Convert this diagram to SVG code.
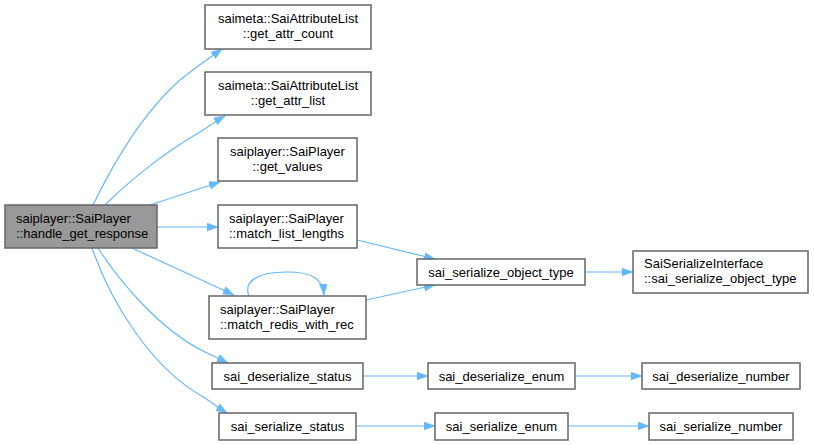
<svg xmlns="http://www.w3.org/2000/svg" width="814" height="445" viewBox="0 0 814 445">
<style>
.n rect{fill:#ffffff;stroke:#666666;stroke-width:1.5}
#root rect{fill:#999999}
text{font-family:"Liberation Sans",Arial,sans-serif;font-size:13px;fill:#000000}
.c{text-anchor:middle}
.e path{fill:none;stroke:#63b8ff;stroke-width:1.2}
</style>
<defs>
<marker id="ah" markerWidth="12" markerHeight="9" refX="11" refY="4" orient="auto" markerUnits="userSpaceOnUse">
<path d="M0,0 L11,4 L0,8 z" fill="#63b8ff" stroke="#63b8ff" stroke-width="0.5"/>
</marker>
</defs>
<rect width="814" height="445" fill="#ffffff"/>
<g class="e" id="edges">
<path d="M93,205 C110,170 140,115 180,80 C192,70 204,62 222,49" marker-end="url(#ah)"/>
<path d="M105,205 C125,185 160,155 200,132 C208,127 216,121 225,116" marker-end="url(#ah)"/>
<path d="M150,205 L220,182" marker-end="url(#ah)"/>
<path d="M157,227 L218,227" marker-end="url(#ah)"/>
<path d="M132,248 L234,295" marker-end="url(#ah)"/>
<path d="M98,248 C120,282 160,330 205,352 C213,356 220,359 228,363" marker-end="url(#ah)"/>
<path d="M92,248 C110,300 150,368 205,398 C212,403 219,408 227,413" marker-end="url(#ah)"/>
<path d="M249,296 C243,281 258,272 287,272 C312,272 323,279 324,295" marker-end="url(#ah)"/>
<path d="M357,240 L435,259" marker-end="url(#ah)"/>
<path d="M366,300 L435,285" marker-end="url(#ah)"/>
<path d="M585,272 L633,272" marker-end="url(#ah)"/>
<path d="M363,376 L428,376" marker-end="url(#ah)"/>
<path d="M575,376 L642,376" marker-end="url(#ah)"/>
<path d="M356,426 L435,426" marker-end="url(#ah)"/>
<path d="M568,426 L649,426" marker-end="url(#ah)"/>
</g>
<g class="n" id="root"><rect x="5" y="205" width="152" height="43"/><text x="16" y="223">saiplayer::SaiPlayer</text><text x="16" y="238">::handle_get_response</text></g>
<g class="n" id="get_attr_count"><rect x="205" y="5" width="166" height="44"/><text class="c" x="288" y="23">saimeta::SaiAttributeList</text><text class="c" x="288" y="38">::get_attr_count</text></g>
<g class="n" id="get_attr_list"><rect x="205" y="72" width="166" height="43"/><text class="c" x="288" y="90">saimeta::SaiAttributeList</text><text class="c" x="288" y="105">::get_attr_list</text></g>
<g class="n" id="get_values"><rect x="218" y="138" width="139" height="43"/><text class="c" x="287.5" y="156">saiplayer::SaiPlayer</text><text class="c" x="287.5" y="171">::get_values</text></g>
<g class="n" id="match_list_lengths"><rect x="218" y="205" width="139" height="43"/><text x="229" y="223">saiplayer::SaiPlayer</text><text x="229" y="238">::match_list_lengths</text></g>
<g class="n" id="match_redis_with_rec"><rect x="209" y="296" width="157" height="43"/><text x="220" y="314">saiplayer::SaiPlayer</text><text x="220" y="329">::match_redis_with_rec</text></g>
<g class="n" id="sai_deserialize_status"><rect x="212" y="363" width="151" height="26"/><text class="c" x="287.5" y="380.5">sai_deserialize_status</text></g>
<g class="n" id="sai_serialize_status"><rect x="219" y="413" width="137" height="27"/><text class="c" x="287.5" y="431">sai_serialize_status</text></g>
<g class="n" id="sai_serialize_object_type"><rect x="417" y="259" width="168" height="26"/><text class="c" x="501" y="276.5">sai_serialize_object_type</text></g>
<g class="n" id="SaiSerializeInterface"><rect x="633" y="251" width="175" height="42"/><text x="644" y="268">SaiSerializeInterface</text><text x="644" y="283">::sai_serialize_object_type</text></g>
<g class="n" id="sai_deserialize_enum"><rect x="428" y="363" width="147" height="26"/><text class="c" x="501.5" y="380.5">sai_deserialize_enum</text></g>
<g class="n" id="sai_deserialize_number"><rect x="642" y="363" width="158" height="26"/><text class="c" x="721" y="380.5">sai_deserialize_number</text></g>
<g class="n" id="sai_serialize_enum"><rect x="435" y="413" width="133" height="27"/><text class="c" x="501.5" y="431">sai_serialize_enum</text></g>
<g class="n" id="sai_serialize_number"><rect x="649" y="413" width="144" height="27"/><text class="c" x="721" y="431">sai_serialize_number</text></g>
</svg>
